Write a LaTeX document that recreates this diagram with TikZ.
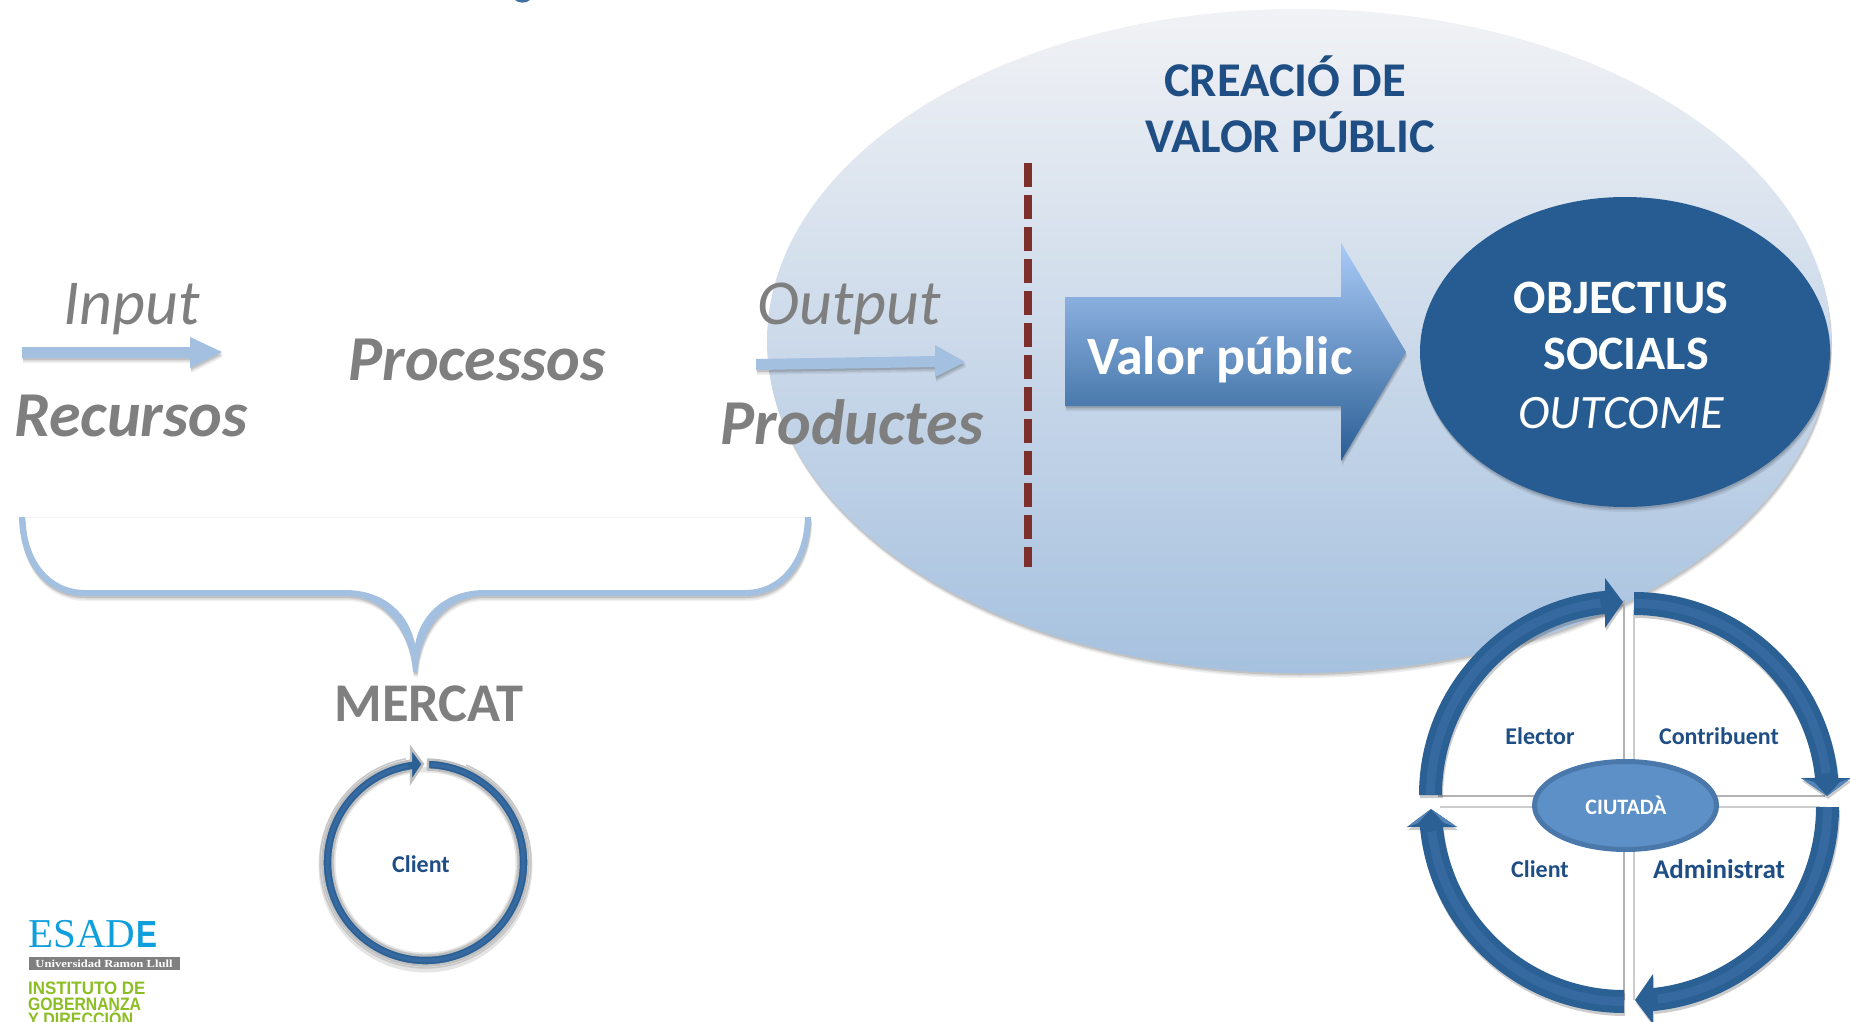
\documentclass[tikz,border=0pt]{standalone}
\usepackage{fontspec}
\usepackage{graphicx}
\setmainfont{Carlito}
\newfontfamily\logoserif{Liberation Serif}
\newfontfamily\logosans{Liberation Sans}
\usetikzlibrary{shapes.geometric,shadows}
\definecolor{navytxt}{HTML}{1F4E84}
\definecolor{greytxt}{HTML}{7F7F7F}
\definecolor{ringblue}{HTML}{2B6095}
\definecolor{ringlight}{HTML}{35699F}
\definecolor{ringfacet}{HTML}{5585B8}
\definecolor{palearrow}{HTML}{A3C0E0}
\definecolor{dashred}{HTML}{7C2F2B}
\definecolor{esadeblue}{HTML}{0E9FDC}
\definecolor{iggreen}{HTML}{8CBD22}
\definecolor{elltop}{HTML}{F1F2F5}
\definecolor{ellbot}{HTML}{A6C1DF}
\definecolor{arrtop}{HTML}{A9CAF7}
\definecolor{arrbot}{HTML}{2A5E94}
\definecolor{objblue}{HTML}{265C92}
\definecolor{ciutfill}{HTML}{5C90C7}
\definecolor{ciutedge}{HTML}{4A78AB}
\newcommand{\fsz}[1]{\fontsize{#1pt}{#1pt}\selectfont}
\newcommand{\quarterpath}{(180:205pt) arc[start angle=180,end angle=95.3,radius=205pt] -- (-19,217) -- (-1,193) -- (-19,167) -- (96:182pt) arc[start angle=96,end angle=180,radius=182pt] -- cycle}
\tikzset{
  softshadow/.style={
    general shadow={shadow xshift=1pt,shadow yshift=-5pt,fill=black,opacity=.06},
    general shadow={shadow xshift=1pt,shadow yshift=-3.5pt,fill=black,opacity=.08},
    general shadow={shadow xshift=.5pt,shadow yshift=-2pt,fill=black,opacity=.12}},
  lbl/.style={anchor=base,inner sep=0pt,outer sep=0pt},
  greybold/.style={lbl,text=greytxt,font=\bfseries\itshape\fsz{64}},
  greyital/.style={lbl,text=greytxt,font=\itshape\fsz{64}},
  headlbl/.style={lbl,text=navytxt,font=\bfseries\fsz{48.5}},
  objlbl/.style={lbl,text=white,font=\bfseries\fsz{48}},
  ringlbl/.style={lbl,text=navytxt,font=\bfseries\fsz{24}},
  greenlbl/.style={anchor=base west,inner sep=0pt,text=iggreen,font=\logosans\bfseries\fsz{18}},
  palearrowfill/.style={fill=palearrow,draw=none,softshadow},
  sepdark/.style={draw=black!30,line width=2pt},
  seplight/.style={draw=black!20,line width=1.4pt}
}
\begin{document}
\begin{tikzpicture}[x=1pt,y=1pt]
\useasboundingbox (0,-1022) rectangle (1850,0);
\fill[white] (0,-1022) rectangle (1850,0);

% fragment of a cut title
\fill[ringblue!90] (515,0) .. controls (518,-3) and (526,-4) .. (530,0) -- cycle;

% large ellipse
\node[ellipse,minimum width=1064pt,minimum height=664pt,inner sep=0pt,outer sep=0pt,
      top color=elltop,bottom color=ellbot,softshadow] (bigell) at (1299,-341) {};

% brace
\draw[black!4,line width=1pt] (25,-517) -- (805,-517);
\fill[palearrowfill] (19,-517) .. controls (20,-565) and (47,-596) .. (85,-596) -- (345,-596)
  .. controls (385,-596) and (410,-630) .. (413,-672) -- (417,-672)
  .. controls (420,-630) and (445,-596) .. (485,-596) -- (745,-596)
  .. controls (783,-596) and (810,-565) .. (811,-517) -- (805,-517)
  .. controls (804,-560) and (780,-590) .. (745,-590) -- (485,-590)
  .. controls (445,-590) and (420,-615) .. (415,-645)
  .. controls (410,-615) and (385,-590) .. (345,-590) -- (85,-590)
  .. controls (50,-590) and (26,-560) .. (25,-517) -- cycle;

% input / output arrows
\fill[palearrowfill] (22,-347) -- (190,-347) -- (190,-337) -- (222,-352) -- (190,-368) -- (190,-358) -- (22,-358) -- cycle;
\fill[palearrowfill] (756,-359) -- (935,-356) -- (935,-345) -- (965,-362) -- (935,-377) -- (935,-367) -- (756,-370) -- cycle;

% dashed separator
\coordinate (dashtop) at (1028,-163);
\coordinate (dashbot) at (1028,-567);
\draw[draw=black,opacity=.2,line width=8pt,dash pattern=on 24pt off 8pt,yshift=-2pt,xshift=.5pt] (dashtop) -- (dashbot);
\draw[dashred,line width=8pt,dash pattern=on 24pt off 8pt] (dashtop) -- (dashbot);

% big arrow
\shade[top color=arrtop,bottom color=arrbot,softshadow] (1065,-297) -- (1341,-297) -- (1341,-243) -- (1406,-352) -- (1341,-461) -- (1341,-406) -- (1065,-406) -- cycle;
\node[lbl,text=white,font=\bfseries\fsz{54}] (valor) at (1220,-374) {Valor públic};

% objectives
\node[ellipse,minimum width=410pt,minimum height=310pt,inner sep=0pt,outer sep=0pt,fill=objblue,softshadow] (obj) at (1625,-352) {};
\node[objlbl] (o1) at (1621,-313.5) {OBJECTIUS};
\node[objlbl] (o2) at (1626,-369.5) {SOCIALS};
\node[objlbl,font=\itshape\fsz{48}] (o3) at (1621,-428.5) {OUTCOME};

% heading
\node[headlbl] (h1) at (1285,-97) {CREACIÓ DE};
\node[headlbl] (h2) at (1290,-153) {VALOR PÚBLIC};

% grey labels
\node[greyital] (input) at (132,-324) {Input};
\node[greyital] (output) at (849,-324) {Output};
\node[greybold] (proc) at (477,-380) {Processos};
\node[greybold] (rec) at (131,-436) {Recursos};
\node[greybold] (prod) at (852,-444) {Productes};
\node[lbl,text=greytxt,font=\bfseries\fsz{54.5}] (mercat) at (429,-721) {MERCAT};

% small cycle
\begin{scope}[shift={(425.5,-862.5)}]
  \fill[black,opacity=.10] (0,-3) circle[radius=107pt];
  \draw[black!22,line width=1.5pt] (0,0) circle[radius=105.5pt];
  \fill[white] (0,0) circle[radius=90pt];
  \fill[white] (-20,96) rectangle (40,125);
  \path[fill=ringblue,draw=black!25,line width=2.4pt] (88.6:103pt) arc[start angle=88.6,end angle=-261.9,radius=103pt]
     -- (-14.5,114.5) -- (-2.5,98.5) -- (-14.5,80.5) -- (99:93pt) arc[start angle=-261,end angle=88.6,radius=93pt] -- cycle;
  \draw[ringlight,line width=4pt] (87:98pt) arc[start angle=87,end angle=-260,radius=98pt];
\end{scope}
\node[lbl,text=navytxt,font=\bfseries\fsz{24}] (client1) at (421,-872) {Client};

% citizen cycle: quadrant lines
\draw[sepdark] (1624,-600) -- (1624,-1000);
\draw[seplight] (1634,-610) -- (1634,-1000);
\draw[sepdark] (1438,-796) -- (1825,-796);
\draw[seplight] (1440,-807) -- (1820,-807);

% citizen cycle: arrows
\foreach \cx/\cy/\rot in {1624/-795/0,1634/-797/-90,1634/-807/180,1624/-808/90}{
  \begin{scope}[shift={(\cx+1,\cy-3)},rotate=\rot]
    \fill[black,opacity=.2] \quarterpath;
  \end{scope}
  \begin{scope}[shift={(\cx,\cy)},rotate=\rot]
    \fill[ringblue] \quarterpath;
    \draw[ringlight,line width=9pt] (180:193.5pt) arc[start angle=180,end angle=97,radius=193.5pt];
  \end{scope}
}
% lit facets of the two vertical arrowheads
\foreach \cx/\cy/\rot in {1634/-797/-90,1624/-808/90}{
  \begin{scope}[shift={(\cx,\cy)},rotate=\rot]
    \fill[ringfacet] (-19,217) -- (-1,193) -- (-15,206) -- cycle;
    \fill[ringfacet] (-19,167) -- (-1,193) -- (-15,180) -- cycle;
  \end{scope}
}

\node[ellipse,minimum width=182pt,minimum height=88pt,inner sep=0pt,outer sep=0pt,fill=ciutfill,draw=ciutedge,line width=5pt] (ciut) at (1625.5,-805.5) {};
\node[lbl,text=white,font=\bfseries\fsz{22}] (ciutl) at (1626,-814) {CIUTADÀ};
\node[ringlbl] (el) at (1540,-744) {Elector};
\node[ringlbl] (co) at (1719,-744) {Contribuent};
\node[ringlbl] (cl) at (1540,-877) {Client};
\node[ringlbl,font=\bfseries\fsz{27}] (ad) at (1719,-878) {Administrat};

% logo
\node[anchor=base west,inner sep=0pt,text=esadeblue,font=\logoserif\fsz{41}] (esad) at (28,-947) {ESAD};
\node[anchor=base west,inner sep=0pt,text=esadeblue,font=\logosans\bfseries\fsz{38}] (esade) at (136,-947) {\resizebox{21pt}{26pt}{E}};
\fill[black!50] (28.5,-957) rectangle (180,-970);
\node[inner sep=0pt,text=white,font=\logoserif\bfseries] (uni) at (104,-963.5) {\resizebox{137pt}{7.5pt}{Universidad Ramon Llull}};
\node[greenlbl] (ig1) at (28,-994) {\scalebox{.94}[1]{INSTITUTO DE}};
\node[greenlbl] (ig2) at (28,-1010) {\scalebox{.875}[1]{GOBERNANZA}};
\node[greenlbl] (ig3) at (28,-1025) {\scalebox{.89}[1]{Y DIRECCIÓN}};
\end{tikzpicture}
\end{document}
